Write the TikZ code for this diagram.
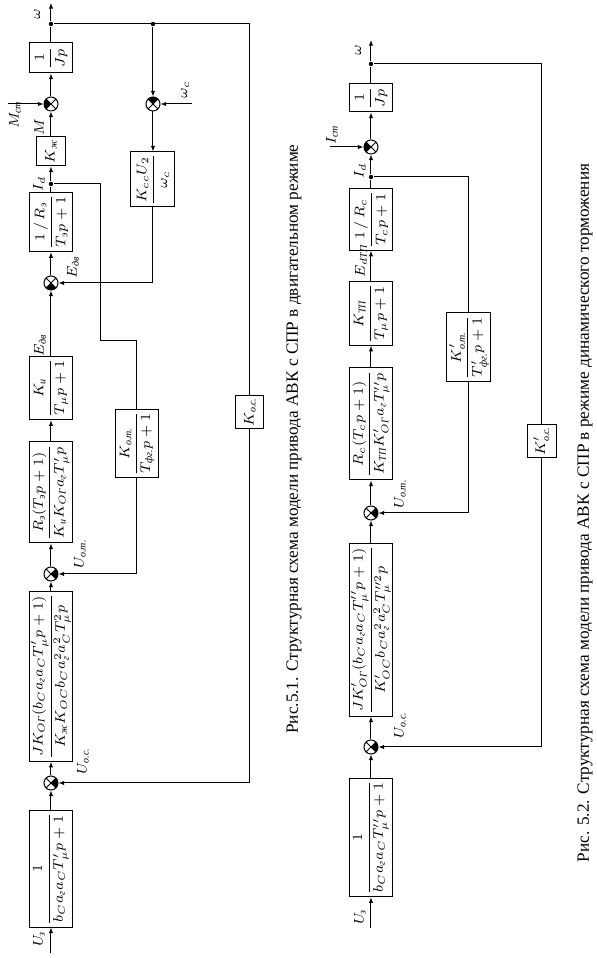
\documentclass[tikz,border=0pt]{standalone}
\usepackage{amsmath}
\usepackage{fontspec}
\setmainfont{Liberation Serif}
\usetikzlibrary{arrows.meta,positioning}

\newcommand{\ct}[1]{\text{\itshape #1}}

\tikzset{
  blockbox/.style={
    rectangle, draw, line width=0.5pt, fill=white,
    minimum width=#1, minimum height=21.5pt,
    inner sep=1pt, font=\fontsize{7}{8.5}\selectfont
  },
  blockbox/.default=20pt,
  sumjoint/.style={
    circle, draw, line width=0.5pt, fill=white,
    minimum size=7pt, inner sep=0pt,
    path picture={
      \fill[black] (path picture bounding box.center) -- ++(#1-45:5pt)
        arc[start angle=#1-45, end angle=#1+45, radius=5pt] -- cycle;
      \draw[line width=0.4pt] (path picture bounding box.north west) -- (path picture bounding box.south east)
        (path picture bounding box.north east) -- (path picture bounding box.south west);
    }
  },
  sumjoint/.default=270,
  dot/.style={circle, fill, inner sep=0pt, minimum size=2.2pt},
  sig/.style={-{Latex[length=2.8pt,width=2.2pt]}, line width=0.5pt},
  wire/.style={line width=0.5pt},
  lbl/.style={font=\fontsize{7}{8.5}\selectfont, inner sep=0pt},
  caption/.style={font=\fontsize{8.6}{10}\selectfont, inner sep=0pt}
}

\begin{document}
\begin{tikzpicture}[x=0.5pt, y=0.5pt, rotate=90, transform shape]
\useasboundingbox (0,0) rectangle (958,596);

% ---- Fig. 5.1: motor mode ----
\coordinate (a-in) at (5,545);
\node[blockbox=54pt] (a-f) at (89,545) {$\dfrac{1}{b_C a_{\ct{г}} a_C T'_{\mu} p+1}$};
\node[sumjoint=270] (a-s1) at (175,545) {};
\node[blockbox=74.5pt] (a-pc) at (281.5,545)
  {$\dfrac{JK_{O\ct{Г}}(b_C a_{\ct{г}} a_C T'_{\mu} p+1)}{K_{\ct{ж}}K_{OC} b_C a_{\ct{г}}^2 a_C^2 T_{\mu}^2 p}$};
\node[sumjoint=270] (a-s2) at (384,545) {};
\node[blockbox=50.5pt] (a-cc) at (465.5,545)
  {$\dfrac{R_{\ct{э}}(T_{\ct{э}} p+1)}{K_{\ct{и}}K_{O\ct{Г}} a_{\ct{г}} T'_{\mu} p}$};
\node[blockbox=27pt] (a-tp) at (570,545) {$\dfrac{K_{\ct{и}}}{T_{\mu} p+1}$};
\node[sumjoint=180] (a-s3) at (675,545) {};
\node[blockbox=27pt] (a-ar) at (736,545) {$\dfrac{1\,/\,R_{\ct{э}}}{T_{\ct{э}} p+1}$};
\node[dot] (a-id) at (774,545) {};
\node[blockbox=14.5pt, minimum height=14.5pt] (a-kz) at (806.5,545) {$K_{\ct{ж}}$};
\node[sumjoint=90] (a-s4) at (854,545) {};
\node[blockbox=15pt] (a-jp) at (900,545) {$\dfrac{1}{Jp}$};
\node[dot] (a-w) at (934,545) {};
\coordinate (a-out) at (955,545);

\draw[sig] (a-in) -- (a-f);
\draw[sig] (a-f) -- (a-s1);
\draw[sig] (a-s1) -- (a-pc);
\draw[sig] (a-pc) -- (a-s2);
\draw[sig] (a-s2) -- (a-cc);
\draw[sig] (a-cc) -- (a-tp);
\draw[sig] (a-tp) -- (a-s3);
\draw[sig] (a-s3) -- (a-ar);
\draw[wire] (a-ar) -- (a-id);
\draw[sig] (a-id) -- (a-kz);
\draw[sig] (a-kz) -- (a-s4);
\draw[sig] (a-s4) -- (a-jp);
\draw[wire] (a-jp) -- (a-w);
\draw[sig] (a-w) -- (a-out);

% speed feedback
\node[blockbox=16pt, minimum height=14pt] (a-koc) at (546,346) {$K_{\ct{о.с.}}$};
\draw[wire] (a-w) |- (a-koc);
\draw[sig] (a-koc) -| (a-s1);

% network voltage branch
\node[dot] (a-wb) at (934,443) {};
\node[sumjoint=0] (a-s5) at (854,443) {};
\coordinate (a-wc) at (854,404);
\node[blockbox=27.5pt, minimum height=22pt] (a-kc) at (778.5,443) {$\dfrac{K_{cc}U_2}{\omega_c}$};
\draw[sig] (a-wb) -- (a-s5);
\draw[sig] (a-wc) -- (a-s5);
\draw[sig] (a-s5) -- (a-kc);
\draw[sig] (a-kc) -| (a-s3);

% current feedback
\node[blockbox=30.5pt] (a-kot) at (514.5,459) {$\dfrac{K_{\ct{о.т.}}}{T_{\ct{фг.}}p+1}$};
\draw[wire] (a-id) |- (617,495) |- (a-kot);
\draw[sig] (a-kot) -| (a-s2);

% signal names
\node[lbl] (a-luz) at (19,557) {$U_{\ct{з}}$};
\node[lbl] (a-luoc) at (197,513) {$U_{\ct{о.с.}}$};
\node[lbl] (a-luot) at (404,516) {$U_{\ct{о.т.}}$};
\node[lbl] (a-le1) at (613,556) {$E_{\ct{дв}}$};
\node[lbl] (a-le2) at (691,523) {$E_{\ct{дв}}$};
\node[lbl] (a-lid) at (774,557) {$I_d$};
\node[lbl] (a-lm) at (831,557) {$M$};
\node[lbl] (a-lmc) at (843,581) {$M_{\ct{ст}}$};
\coordinate (a-mc) at (854,588);
\draw[sig] (a-mc) -- (a-s4);
\node[lbl] (a-lw) at (944,559) {$\omega$};
\node[lbl] (a-lwc) at (868,411) {$\omega_c$};

\node[caption] (cap1) at (519,302) {Рис.5.1. Структурная схема модели привода АВК с СПР в двигательном режиме};

% ---- Fig. 5.2: dynamic braking ----
\coordinate (b-in) at (30,225);
\node[blockbox=52.5pt] (b-f) at (120.5,225) {$\dfrac{1}{b_C a_{\ct{г}} a_C T''_{\mu} p+1}$};
\node[sumjoint=270] (b-s1) at (211,225) {};
\node[blockbox=78pt] (b-pc) at (328,225)
  {$\dfrac{JK'_{O\ct{Г}}(b_C a_{\ct{г}} a_C T''_{\mu} p+1)}{K'_{OC} b_C a_{\ct{г}}^2 a_C^2 T''^2_{\mu} p}$};
\node[sumjoint=270] (b-s2) at (445,225) {};
\node[blockbox=56pt] (b-cc) at (534,225)
  {$\dfrac{R_c(T_c p+1)}{K_{\ct{ТП}}K'_{O\ct{Г}} a_{\ct{г}} T''_{\mu} p}$};
\node[blockbox=26.5pt] (b-tp) at (644.5,225) {$\dfrac{K_{\ct{ТП}}}{T_{\mu} p+1}$};
\node[blockbox=27.5pt] (b-ar) at (738.5,225) {$\dfrac{1\,/\,R_c}{T_c p+1}$};
\node[dot] (b-id) at (781,225) {};
\node[sumjoint=90] (b-s3) at (811,225) {};
\node[blockbox=14pt] (b-jp) at (860,225) {$\dfrac{1}{Jp}$};
\node[dot] (b-w) at (894,225) {};
\coordinate (b-out) at (918,225);

\draw[sig] (b-in) -- (b-f);
\draw[sig] (b-f) -- (b-s1);
\draw[sig] (b-s1) -- (b-pc);
\draw[sig] (b-pc) -- (b-s2);
\draw[sig] (b-s2) -- (b-cc);
\draw[sig] (b-cc) -- (b-tp);
\draw[sig] (b-tp) -- (b-ar);
\draw[wire] (b-ar) -- (b-id);
\draw[sig] (b-id) -- (b-s3);
\draw[sig] (b-s3) -- (b-jp);
\draw[wire] (b-jp) -- (b-w);
\draw[sig] (b-w) -- (b-out);

% speed feedback
\node[blockbox=16pt, minimum height=14.5pt] (b-koc) at (517,54.5) {$K'_{\ct{о.с.}}$};
\draw[wire] (b-w) |- (b-koc);
\draw[sig] (b-koc) -| (b-s1);

% current feedback
\node[blockbox=34.5pt, minimum height=22pt] (b-kot) at (610.5,127) {$\dfrac{K'_{\ct{о.т.}}}{T'_{\ct{фг.}}p+1}$};
\draw[wire] (b-id) |- (b-kot);
\draw[sig] (b-kot) -| (b-s2);

% load current
\coordinate (b-ic) at (811,266);
\draw[sig] (b-ic) -- (b-s3);

% signal names
\node[lbl] (b-luz) at (41,236) {$U_{\ct{з}}$};
\node[lbl] (b-luoc) at (233,196) {$U_{\ct{о.с.}}$};
\node[lbl] (b-luot) at (464,196) {$U_{\ct{о.т.}}$};
\node[lbl] (b-le) at (697,235) {$E_{d\ct{ТП}}$};
\node[lbl] (b-lid) at (787,236) {$I_d$};
\node[lbl] (b-lic) at (823,264) {$I_{\ct{ст}}$};
\node[lbl] (b-lw) at (908,238) {$\omega$};

\node[caption] (cap2) at (445,11) {Рис. 5.2. Структурная схема модели привода АВК с СПР в режиме динамического торможения};

\end{tikzpicture}
\end{document}
